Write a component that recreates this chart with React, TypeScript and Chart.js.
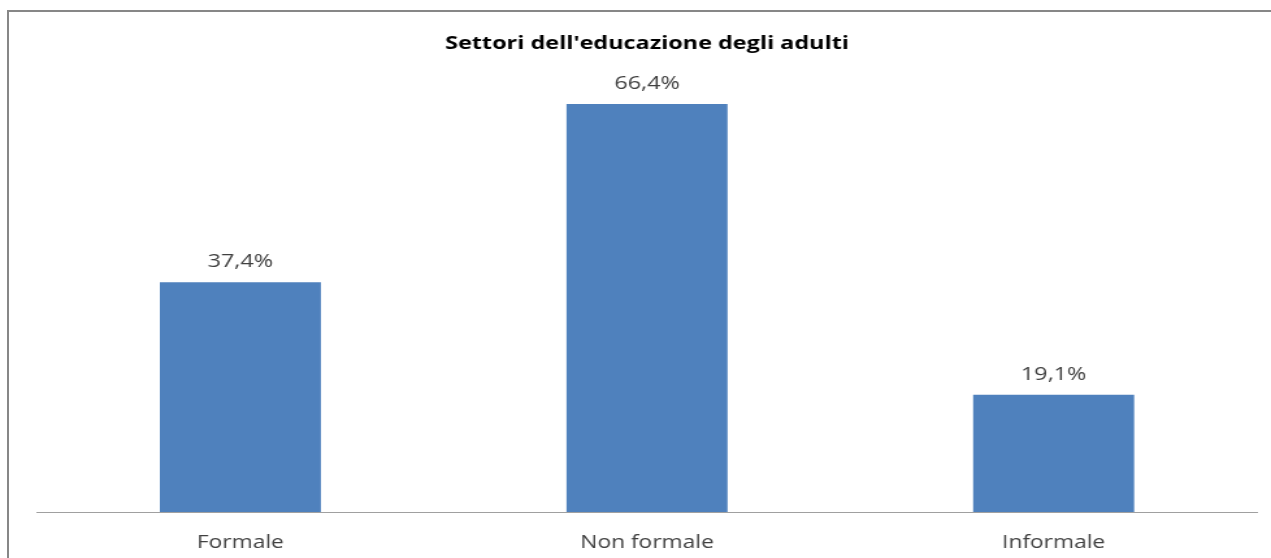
import React, { useEffect, useRef } from "react";
import { Chart, registerables } from "chart.js";

Chart.register(...registerables);

const categories = ["Formale", "Non formale", "Informale"];
const values = [37.4, 66.4, 19.1];
const valueLabels = ["37,4%", "66,4%", "19,1%"];
const chartTitle = "Settori dell'educazione degli adulti";

const VIEW_W = 1271;
const VIEW_H = 558;
const STRETCH = 1.3;
const CANVAS_W = Math.round(VIEW_W / STRETCH);

const dataLabelPlugin = {
  id: "dataLabels",
  afterDatasetsDraw(chart: any) {
    const ctx = chart.ctx;
    const meta = chart.getDatasetMeta(0);
    ctx.save();
    ctx.font = '18px "Open Sans"';
    ctx.fillStyle = "#404040";
    ctx.textAlign = "center";
    ctx.textBaseline = "alphabetic";
    meta.data.forEach((bar: any, i: number) => {
      ctx.fillText(valueLabels[i], bar.x, bar.y - 15);
    });
    ctx.restore();
  },
};

export default function App() {
  const ref = useRef<HTMLCanvasElement | null>(null);

  useEffect(() => {
    if (!ref.current) return;
    Chart.defaults.font.family = '"Open Sans", sans-serif';
    const chart = new Chart(ref.current, {
      type: "bar",
      data: {
        labels: categories,
        datasets: [
          {
            data: values,
            backgroundColor: "#4F81BD",
            borderWidth: 0,
            barPercentage: 0.396,
            categoryPercentage: 1,
          },
        ],
      },
      options: {
        animation: false,
        responsive: false,
        devicePixelRatio: 1,
        layout: { padding: { left: 28.5, right: 10.8, top: 0, bottom: 5 } },
        plugins: {
          legend: { display: false },
          tooltip: { enabled: false },
          title: {
            display: true,
            text: chartTitle,
            color: "#000000",
            font: { size: 18, weight: "bold" },
            padding: { top: 32.7, bottom: 27.7 },
          },
        },
        scales: {
          x: {
            grid: { display: false, drawTicks: false },
            border: { display: true, color: "#a0a0a0", width: 1 },
            ticks: { color: "#404040", font: { size: 17.5 }, padding: 21 },
            afterFit: (scale: any) => {
              scale.height = 41;
            },
          },
          y: { display: false, min: 0, max: 70 },
        },
      },
      plugins: [dataLabelPlugin],
    });
    return () => chart.destroy();
  }, []);

  return (
    <div
      style={{
        position: "fixed",
        left: 0,
        top: 0,
        width: VIEW_W,
        height: VIEW_H,
        overflow: "hidden",
        background: "#ffffff",
      }}
    >
      <canvas
        ref={ref}
        width={CANVAS_W}
        height={VIEW_H}
        style={{ position: "absolute", left: 0, top: 0, width: VIEW_W + "px", height: VIEW_H + "px", display: "block" }}
      />
      <div
        style={{
          position: "absolute",
          left: 7,
          top: 10,
          width: 2000,
          height: 2000,
          borderLeft: "2px solid #878787",
          borderTop: "2px solid #878787",
          pointerEvents: "none",
        }}
      />
    </div>
  );
}
